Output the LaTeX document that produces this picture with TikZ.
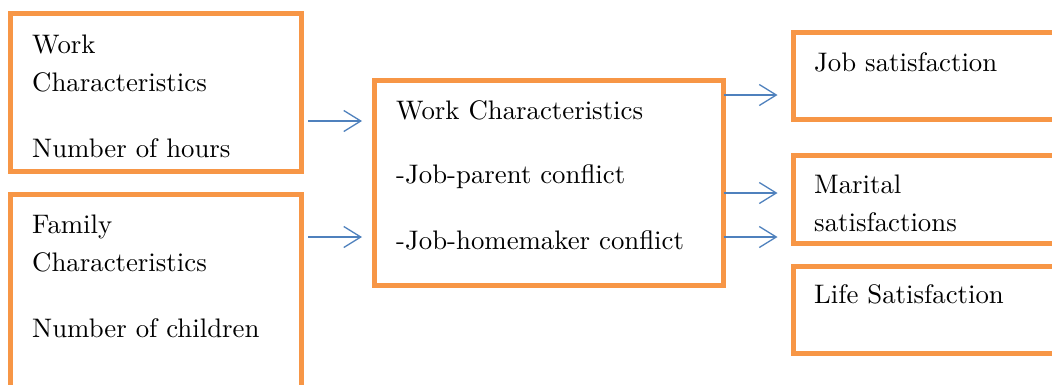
\documentclass[tikz,border=0pt]{standalone}
\usepackage{fontspec}
\newfontfamily\lmten{lmroman10-regular.otf}
\usetikzlibrary{arrows.meta}
\definecolor{boxorange}{HTML}{F79646}
\definecolor{arrblue}{HTML}{4F81BD}
\begin{document}
\begin{tikzpicture}[x=1pt,y=-1pt,
  box/.style={draw=boxorange,line width=5pt,line join=miter,rectangle,inner sep=0pt,fill=none},
  txt/.style={anchor=base west,inner sep=0pt,font=\lmten\fontsize{26.8}{32}\selectfont},
  arr/.style={draw=arrblue,line width=1.3pt,-{Straight Barb[length=17pt,width=21pt,line width=1.3pt]}}]
\useasboundingbox (0,0) rectangle (1052,384);
\clip (0,0) rectangle (1052,384);
\fill[white] (0,0) rectangle (1052,384);
% boxes
\node[box,minimum width=291pt,minimum height=158pt] (b1) at (155.5,92) {};
\node[box,minimum width=291pt,minimum height=206pt] (b2) at (155.5,297) {};
\node[box,minimum width=348.5pt,minimum height=205pt] (m) at (548.75,182.5) {};
\node[box,minimum width=277pt,minimum height=87pt] (r1) at (931.5,75.5) {};
\node[box,minimum width=277pt,minimum height=88pt] (r2) at (931.5,199) {};
\node[box,minimum width=277pt,minimum height=87pt] (r3) at (931.5,309.5) {};
% texts
\node[txt] (t1a) at (32,53) {Work};
\node[txt] (t1b) at (32,91) {Characteristics};
\node[txt] (t1c) at (32,157) {Number of hours};
\node[txt] (t2a) at (32,233) {Family};
\node[txt] (t2b) at (32,271) {Characteristics};
\node[txt] (t2c) at (32,337) {Number of children};
\node[txt] (tma) at (396,119) {Work Characteristics};
\node[txt] (tmb) at (396,183) {-Job-parent conflict};
\node[txt] (tmc) at (396,249) {-Job-homemaker conflict};
\node[txt] (tr1) at (814,71) {Job satisfaction};
\node[txt] (tr2a) at (814,193) {Marital};
\node[txt] (tr2b) at (814,231) {satisfactions};
\node[txt] (tr3) at (814,303) {Life Satisfaction};
% arrow rows
\coordinate (ya) at (0,121);
\coordinate (yb) at (0,237);
\coordinate (yc) at (0,95);
\coordinate (yd) at (0,193);
\coordinate (ye) at (0,237);
\draw[arr,shorten <=4.5pt,shorten >=10pt] (b1.east |- ya) -- (m.west |- ya);
\draw[arr,shorten <=4.5pt,shorten >=10pt] (b2.east |- yb) -- (m.west |- yb);
\draw[arr,shorten <=-2pt,shorten >=13pt] (m.east |- yc) -- (r1.west |- yc);
\draw[arr,shorten <=-2pt,shorten >=13pt] (m.east |- yd) -- (r2.west |- yd);
\draw[arr,shorten <=-2pt,shorten >=13pt] (m.east |- ye) -- (r2.west |- ye);
\end{tikzpicture}
\end{document}
